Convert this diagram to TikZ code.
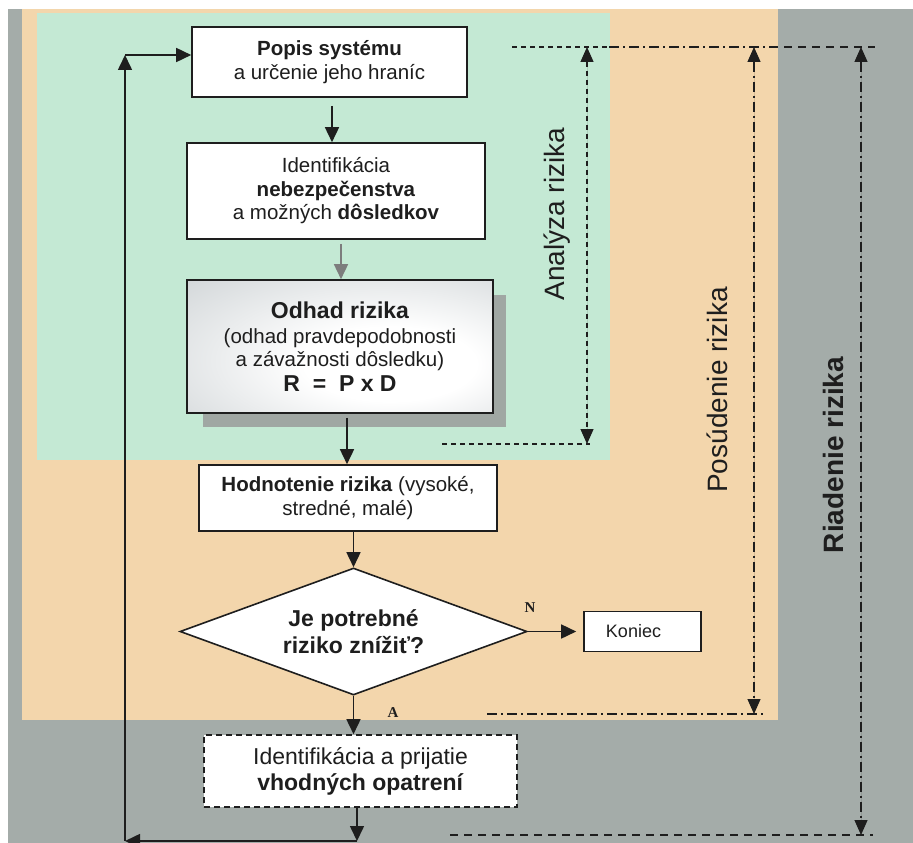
\documentclass[tikz,border=0pt]{standalone}
\usepackage{fontspec}
\setmainfont{Liberation Sans}
\newfontfamily\serifface{Liberation Serif}
\usetikzlibrary{arrows.meta,shapes.geometric,calc}
\definecolor{bggray}{RGB}{164,172,169}
\definecolor{bgtan}{RGB}{243,214,172}
\definecolor{bggreen}{RGB}{196,233,212}
\definecolor{shadowgray}{RGB}{160,167,163}
\definecolor{txt}{RGB}{30,30,30}
\definecolor{arrgray}{RGB}{125,125,125}
\pgfdeclareradialshading{odhadshade}{\pgfpoint{10bp}{-8bp}}{%
  color(0bp)=(white); color(14bp)=(white); color(40bp)=(rgb,255:red,214;green,218;blue,220);
  color(62bp)=(rgb,255:red,168;green,174;blue,177); color(80bp)=(rgb,255:red,160;green,166;blue,170)}
\tikzset{
  box/.style={draw=txt, line width=1.6pt, fill=white, inner sep=0pt, align=center, text=txt,
    font=\fontsize{20.5}{23.5}\selectfont},
  arr/.style={draw=txt, line width=1.6pt, -{Triangle[length=15pt,width=14pt]}},
  dimtip/.style={{Triangle[length=15pt,width=13pt]}-{Triangle[length=15pt,width=13pt]}},
  dimdash/.style={draw=txt, line width=1.3pt, dash pattern=on 5pt off 4pt},
  dimdashdot/.style={draw=txt, line width=1.3pt, dash pattern=on 10pt off 4pt on 2pt off 4pt},
  dimlong/.style={draw=txt, line width=1.3pt, dash pattern=on 8pt off 6pt},
  sidelabel/.style={rotate=90, text=txt, font=\fontsize{28}{30}\selectfont},
  yesno/.style={text=txt, font=\serifface\bfseries\fontsize{15}{15}\selectfont},
}
\begin{document}
\begin{tikzpicture}[x=1pt,y=-1pt]
\useasboundingbox (0,0) rectangle (913,843);
% backgrounds
\fill[white] (0,0) rectangle (913,843);
\fill[bggray] (8,9) rectangle (913,843);
\fill[bgtan] (22,9) rectangle (778,720);
\fill[bggreen] (37,13) rectangle (610,460);

% shadow of Odhad box
\fill[shadowgray] (203,295) rectangle (506,427);

% nodes
\node[box, minimum width=275pt, minimum height=70pt] (popis) at (329.5,62)
  {\textbf{Popis systému}\\a určenie jeho hraníc};
\node[box, minimum width=298pt, minimum height=96pt] (ident) at (336,191)
  {Identifikácia\\\textbf{nebezpečenstva}\\a možných \textbf{dôsledkov}};
\node[box, minimum width=306pt, minimum height=133pt, shading=odhadshade] (odhad) at (340,346.5)
  {{\bfseries\fontsize{23}{26}\selectfont Odhad rizika}\\[1pt]
   (odhad pravdepodobnosti\\
   a závažnosti dôsledku)\\[1pt]
   {\bfseries\fontsize{23}{26}\selectfont R\ \ =\ \ P x D}};
\node[box, minimum width=298pt, minimum height=66pt] (hodn) at (348,498)
  {\textbf{Hodnotenie rizika} (vysoké,\\stredné, malé)};
\node[box, diamond, aspect=2.73, minimum width=347pt, minimum height=127pt,
      font=\bfseries\fontsize{23}{27}\selectfont] (dia) at (353.5,631.5)
  {Je potrebné\\riziko znížiť?};
\node[box, minimum width=117pt, minimum height=40pt, font=\fontsize{18}{20}\selectfont]
  (kon) at (642.5,631.5) {Koniec\hspace*{18pt}};
\node[box, dash pattern=on 6pt off 4pt, minimum width=313pt, minimum height=72pt,
      font=\fontsize{23}{26}\selectfont] (opat) at (360.5,771)
  {Identifikácia a prijatie\\\textbf{vhodných opatrení}};

% flow connectors
\draw[arr] ([xshift=2.5pt,yshift=-8pt]popis.south) -- ([xshift=-4pt]ident.north);
\draw[arr, draw=arrgray, -{Triangle[length=15pt,width=14pt,fill=arrgray]}]
  ([xshift=5pt,yshift=-4pt]ident.south) -- ([xshift=1pt]odhad.north);
\draw[arr] ([xshift=7pt,yshift=-4pt]odhad.south) -- ([xshift=-1pt]hodn.north);
\draw[arr] (hodn.south -| dia.north) -- (dia.north);
\draw[arr] (dia.south) -- (dia.south |- opat.north);
\draw[arr] (dia.east) -- ([xshift=-7pt]kon.west);
\node[yesno] (nlab) at (530,608) {N};
\node[yesno] (alab) at (393,713) {A};

% feedback loop
\coordinate (loopB) at (357,841);
\coordinate (loopC) at (125,841);
\coordinate (loopT) at (125,55);
\draw[arr] (opat.south -| loopB) -- (loopB);
\draw[arr] (loopB) -- (loopC);
\draw[arr] (loopC) -- (loopT);
\draw[arr] (loopT) -- (loopT -| popis.west);

% dimension lines
\coordinate (aTop) at (587,47);  \coordinate (aBot) at (587,444);
\coordinate (pTop) at (754,47);  \coordinate (pBot) at (754,714);
\coordinate (rTop) at (861,47);  \coordinate (rBot) at (861,835);
\coordinate (lineA1) at (512,47); \coordinate (lineA2) at (609,47);
\coordinate (lineR2) at (875,47); \coordinate (lineP2) at (770,47);
\coordinate (botA1) at (442,444); \coordinate (botA2) at (590,444);
\coordinate (botP1) at (487,714); \coordinate (botP2) at (763,714);
\coordinate (botR1) at (450,835); \coordinate (botR2) at (873,835);

\draw[dimdash] (lineA1) -- (lineA2);
\draw[dimdashdot] (lineA2) -- (lineP2);
\draw[dimlong] (lineP2) -- (lineR2);
\draw[dimdash] (botA1) -- (botA2);
\draw[dimdashdot] (botP1) -- (botP2);
\draw[dimlong] (botR1) -- (botR2);

\draw[dimdash, dimtip, fill=txt] (aTop) -- (aBot);
\draw[dimdashdot, dimtip, fill=txt] (pTop) -- (pBot);
\draw[dimdashdot, dimtip, fill=txt] (rTop) -- (rBot);

\node[sidelabel] (labA) at (557,214) {Analýza rizika};
\node[sidelabel] (labP) at (717,390) {Posúdenie rizika};
\node[sidelabel, font=\bfseries\fontsize{28}{30}\selectfont] (labR) at (833,455) {Riadenie rizika};
\end{tikzpicture}
\end{document}
